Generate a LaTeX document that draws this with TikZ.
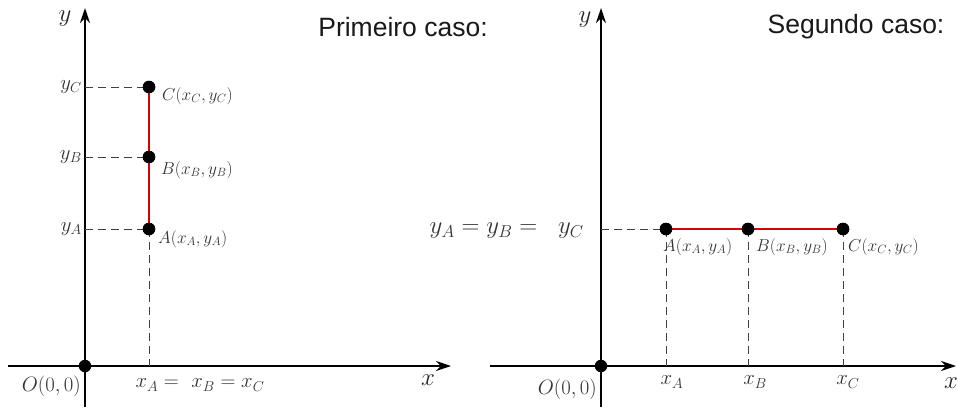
\documentclass[tikz,border=0pt]{standalone}
\usepackage{fontspec}
\newfontfamily\sansttl{Liberation Sans}
\usetikzlibrary{arrows.meta}
\begin{document}
\begin{tikzpicture}[x=1pt,y=-1pt,
  axis/.style={line width=1.8pt, -{Stealth[length=15pt,width=10pt]}},
  guide/.style={dash pattern=on 8pt off 5pt, line width=1pt, black!75},
  seg/.style={red!85!black, line width=1.2pt},
  dot/.style={circle, fill=black, inner sep=0pt, minimum size=12.5pt},
  lab/.style={text=black!80, inner sep=1pt, font=\fontsize{18}{21}\selectfont},
  big/.style={text=black!80, inner sep=1pt, font=\fontsize{22}{26}\selectfont},
  axlab/.style={text=black!85, inner sep=0pt, font=\fontsize{32}{35}\selectfont},
  ttl/.style={text=black!90, inner sep=0pt, font=\sansttl\fontsize{26.5}{30}\selectfont}]
\useasboundingbox (0,0) rectangle (958,407);
% ---------- left panel ----------
\coordinate (LxS) at (8,366);
\coordinate (LxE) at (451,366);
\coordinate (LyS) at (85,407);
\coordinate (LyE) at (85,8);
\coordinate (LyA) at (85,229);
\coordinate (LyB) at (85,157);
\coordinate (LyC) at (85,87);
\coordinate (LxA) at (149,366);
\draw[axis] (LxS) -- (LxE);
\draw[axis] (LyS) -- (LyE);
\draw[guide] (LyA) -- (149,229);
\draw[guide] (LyB) -- (149,157);
\draw[guide] (LyC) -- (149,87);
\draw[guide] (149,229) -- (LxA);
\node[dot] (O1) at (85,366) {};
\node[dot] (A1) at (149,229) {};
\node[dot] (B1) at (149,157) {};
\node[dot] (C1) at (149,87) {};
\draw[seg] (A1.center) -- (C1.center);
\node[dot] at (A1) {};
\node[dot] at (B1) {};
\node[dot] at (C1) {};
\node[axlab] (ly1) at (65,19) {$y$};
\node[axlab] (lx1) at (428,380) {$x$};
\node[big, anchor=east] (lyA1) at (83,229) {$y_A$};
\node[big, anchor=east] (lyB1) at (83,157) {$y_B$};
\node[big, anchor=east] (lyC1) at (83,87) {$y_C$};
\node[lab, anchor=west] (lA1) at (157,239) {$A(x_A,y_A)$};
\node[lab, anchor=west] (lB1) at (160,170) {$B(x_B,y_B)$};
\node[lab, anchor=west] (lC1) at (161,96) {$C(x_C,y_C)$};
\node[big, anchor=east] (lO1) at (82,386) {$O(0,0)$};
\node[big] (lx1eq) at (200,385) {$x_A =\ x_B = x_C$};
\node[ttl] (t1) at (403,27) {Primeiro caso:};
% ---------- right panel ----------
\coordinate (RxS) at (490,366);
\coordinate (RxE) at (956,366);
\coordinate (RyS) at (601,407);
\coordinate (RyE) at (601,8);
\coordinate (RyA) at (601,229);
\coordinate (RxA) at (666,366);
\coordinate (RxB) at (748,366);
\coordinate (RxC) at (843,366);
\draw[axis] (RxS) -- (RxE);
\draw[axis] (RyS) -- (RyE);
\draw[guide] (RyA) -- (666,229);
\draw[guide] (666,229) -- (RxA);
\draw[guide] (748,229) -- (RxB);
\draw[guide] (843,229) -- (RxC);
\node[dot] (O2) at (601,366) {};
\node[dot] (A2) at (666,229) {};
\node[dot] (B2) at (748,229) {};
\node[dot] (C2) at (843,229) {};
\draw[seg] (A2.center) -- (C2.center);
\node[dot] at (A2) {};
\node[dot] at (B2) {};
\node[dot] at (C2) {};
\node[axlab] (ly2) at (585,20) {$y$};
\node[axlab] (lx2) at (951,383) {$x$};
\node[big, anchor=east, font=\fontsize{23}{27}\selectfont] (lyeq) at (585,231) {$y_A = y_B =\;\; y_C$};
\node[lab, anchor=west] (lA2) at (662,247) {$A(x_A,y_A)$};
\node[lab, anchor=west] (lB2) at (755,247) {$B(x_B,y_B)$};
\node[lab, anchor=west] (lC2) at (847,247) {$C(x_C,y_C)$};
\node[big, anchor=east] (lO2) at (598,389) {$O(0,0)$};
\node[big] (lxA2) at (672,382) {$x_A$};
\node[big] (lxB2) at (755,382) {$x_B$};
\node[big] (lxC2) at (848,382) {$x_C$};
\node[ttl] (t2) at (856,27) {Segundo caso:};
\end{tikzpicture}
\end{document}
